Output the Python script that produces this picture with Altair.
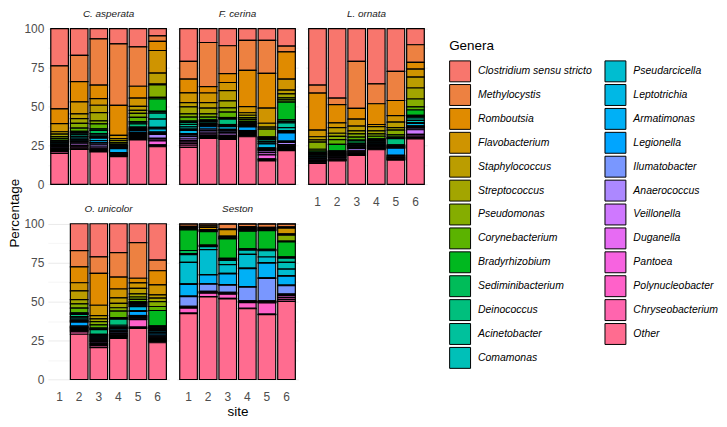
import math
import altair as alt
import pandas as pd

GENERA = ["Clostridium sensu stricto", "Methylocystis", "Romboutsia", "Flavobacterium",
          "Staphylococcus", "Streptococcus", "Pseudomonas", "Corynebacterium",
          "Bradyrhizobium", "Sediminibacterium", "Deinococcus", "Acinetobacter",
          "Comamonas", "Pseudarcicella", "Leptotrichia", "Armatimonas", "Legionella",
          "Ilumatobacter", "Anaerococcus", "Veillonella", "Duganella", "Pantoea",
          "Polynucleobacter", "Chryseobacterium", "Other"]

SITES = ["1", "2", "3", "4", "5", "6"]
SITES_OU = ["2", "3", "4", "5", "6"]

# percentages per bar, in GENERA order (top of stack first)
C_ASPERATA = [
    [23.7, 27.4, 9.3, 5.2, 1.5, 1.5, 1.2, 1.2, 0.5, 0.5, 0.4, 0.4, 0.4, 0.6, 0.5, 0.5, 0.5, 0.5, 0.5, 0.5, 0.6, 0.5, 0.5, 1.0, 19.6],
    [17.5, 17.1, 13.2, 7.9, 3.1, 3.1, 3.1, 2.0, 0.8, 0.8, 0.8, 1.0, 1.0, 0.8, 0.5, 0.5, 0.5, 0.8, 0.8, 1.0, 0.8, 0.8, 0.5, 0.5, 22.7],
    [6.6, 29.5, 8.6, 4.2, 4.7, 5.2, 2.0, 3.1, 1.0, 2.0, 1.0, 1.0, 0.5, 0.5, 1.5, 1.3, 0.4, 1.0, 1.5, 1.0, 0.6, 0.5, 0.5, 0.5, 20.6],
    [9.7, 38.8, 18.9, 2.1, 1.2, 1.2, 1.0, 0.8, 0.3, 0.3, 0.3, 0.3, 0.3, 0.3, 0.3, 2.5, 0.4, 0.3, 0.3, 0.3, 0.3, 0.3, 0.3, 0.3, 17.5],
    [11.8, 25.3, 7.6, 5.4, 2.5, 2.0, 2.5, 2.7, 0.8, 0.8, 2.0, 0.8, 0.6, 0.5, 0.6, 1.0, 0.6, 0.6, 0.6, 0.6, 0.6, 0.6, 0.6, 0.6, 28.5],
    [4.7, 3.5, 5.8, 14.4, 7.0, 0.6, 8.0, 1.0, 7.8, 0.5, 0.8, 3.7, 5.3, 1.0, 2.0, 0.5, 0.5, 0.5, 2.5, 0.5, 1.2, 2.5, 0.5, 0.7, 24.0],
]
F_CERINA = [
    [21.0, 11.4, 8.8, 6.2, 2.7, 4.5, 2.1, 2.5, 0.5, 0.5, 1.2, 1.5, 1.5, 0.8, 2.0, 0.5, 0.5, 1.0, 1.5, 1.0, 1.0, 1.0, 1.0, 1.3, 23.7],
    [8.9, 28.2, 4.1, 6.2, 3.5, 3.7, 2.0, 1.7, 0.5, 0.5, 0.5, 1.0, 0.5, 0.5, 0.5, 0.5, 1.5, 1.0, 1.0, 1.0, 1.0, 0.8, 0.6, 0.6, 29.3],
    [11.0, 17.9, 5.7, 5.2, 6.6, 4.5, 2.7, 3.5, 0.5, 0.5, 3.5, 0.5, 0.5, 0.3, 1.8, 0.5, 0.5, 1.0, 1.0, 1.0, 0.6, 0.6, 0.6, 0.6, 28.9],
    [7.6, 19.2, 23.3, 3.9, 1.6, 1.5, 1.2, 1.2, 0.5, 0.5, 0.5, 0.5, 0.5, 0.5, 0.3, 0.3, 2.3, 0.6, 0.6, 0.6, 0.6, 0.6, 0.5, 0.5, 30.5],
    [7.6, 21.2, 22.3, 9.7, 2.5, 1.2, 5.0, 0.5, 0.5, 0.5, 0.5, 1.0, 1.0, 0.5, 2.6, 0.5, 0.5, 0.5, 0.5, 1.0, 1.5, 2.6, 0.5, 0.8, 15.0],
    [11.3, 3.7, 17.5, 7.0, 2.5, 2.5, 1.3, 1.5, 11.3, 1.0, 1.0, 3.0, 2.0, 0.5, 0.7, 0.3, 5.2, 0.8, 1.5, 0.8, 0.8, 0.8, 0.8, 0.7, 21.6],
]
L_ORNATA = [
    [36.1, 5.1, 23.7, 4.2, 2.0, 1.5, 4.5, 1.2, 1.0, 0.8, 0.6, 0.6, 0.5, 0.4, 0.4, 0.4, 0.4, 0.4, 0.4, 0.4, 0.4, 0.4, 0.4, 0.3, 13.4],
    [43.9, 4.1, 11.4, 3.1, 3.5, 2.0, 2.0, 3.0, 4.1, 0.5, 0.5, 0.4, 0.4, 0.4, 0.4, 0.4, 0.4, 0.4, 0.4, 0.8, 0.4, 0.3, 0.3, 0.3, 14.8],
    [21.2, 30.3, 6.9, 4.5, 3.1, 2.0, 2.0, 2.0, 0.5, 1.5, 0.5, 0.5, 0.5, 0.4, 0.4, 0.4, 0.4, 0.4, 1.4, 0.6, 0.6, 0.6, 0.6, 0.6, 18.6],
    [35.7, 12.8, 13.4, 1.4, 2.7, 2.0, 1.5, 1.6, 0.5, 0.5, 0.5, 0.5, 0.5, 0.4, 0.4, 0.5, 0.5, 0.4, 0.4, 0.4, 0.4, 0.4, 0.4, 0.4, 22.3],
    [27.4, 18.6, 9.7, 4.1, 3.5, 1.6, 3.1, 1.4, 0.5, 0.5, 4.0, 0.5, 0.5, 0.4, 0.4, 0.3, 4.5, 0.5, 0.5, 0.5, 0.4, 0.4, 0.4, 0.4, 15.5],
    [10.3, 11.3, 4.2, 5.1, 7.0, 7.0, 5.0, 2.0, 3.5, 0.8, 0.8, 1.5, 1.5, 0.5, 1.5, 0.5, 0.5, 0.5, 1.0, 3.0, 1.0, 0.8, 0.5, 0.5, 29.0],
]
O_UNICOLOR = [
    [17.0, 10.3, 10.0, 5.1, 5.6, 2.7, 2.7, 2.9, 0.5, 0.5, 1.4, 1.0, 1.0, 0.5, 0.5, 0.5, 2.5, 0.5, 0.5, 0.5, 0.8, 0.6, 0.8, 1.5, 28.6],
    [21.1, 10.4, 20.3, 6.6, 2.1, 1.7, 2.1, 2.0, 0.5, 0.5, 3.0, 0.5, 0.5, 0.6, 0.6, 0.6, 0.6, 0.6, 0.6, 1.0, 0.6, 0.6, 0.6, 1.0, 20.3],
    [18.2, 15.3, 7.5, 5.6, 3.5, 2.7, 2.1, 4.1, 0.5, 0.5, 3.8, 1.0, 0.5, 0.5, 1.0, 0.5, 0.5, 1.0, 0.5, 0.5, 0.5, 0.5, 0.5, 0.7, 25.9],
    [12.0, 22.8, 3.0, 3.5, 3.5, 2.0, 1.5, 1.5, 0.5, 0.5, 0.5, 0.5, 0.6, 0.5, 2.6, 0.5, 2.6, 0.6, 0.5, 0.5, 0.5, 0.5, 4.8, 0.8, 32.7],
    [22.8, 6.6, 8.9, 6.2, 2.1, 2.1, 3.1, 2.5, 9.6, 0.8, 0.5, 0.8, 0.8, 0.5, 0.8, 1.0, 1.0, 0.6, 0.6, 0.6, 0.6, 0.6, 0.6, 0.8, 23.0],
]
SESTON = [
    [0.3, 1.4, 0.5, 0.5, 0.3, 0.3, 0.3, 0.3, 13.3, 2.0, 0.3, 0.3, 5.0, 13.9, 0.3, 7.6, 0.3, 6.2, 0.3, 0.3, 0.3, 0.3, 3.2, 0.3, 42.4],
    [0.3, 1.0, 1.0, 1.5, 0.3, 0.3, 0.3, 0.3, 8.7, 0.3, 0.3, 0.3, 2.0, 15.9, 0.3, 5.6, 0.3, 4.6, 0.3, 0.3, 0.3, 0.3, 2.1, 0.3, 52.8],
    [0.3, 3.1, 0.4, 4.2, 0.5, 0.5, 0.4, 0.4, 12.4, 0.5, 0.5, 0.4, 2.7, 5.6, 0.4, 6.8, 0.4, 4.6, 0.3, 0.3, 0.3, 0.3, 2.7, 0.3, 51.8],
    [0.3, 1.6, 0.6, 0.6, 0.5, 0.5, 0.4, 0.4, 11.4, 0.3, 0.3, 0.3, 2.8, 9.0, 0.3, 11.8, 0.3, 8.9, 0.3, 0.3, 0.3, 0.3, 3.7, 0.3, 46.2],
    [0.3, 2.0, 0.4, 0.4, 0.4, 0.3, 0.3, 0.3, 12.0, 0.3, 0.3, 0.3, 4.0, 3.6, 0.3, 9.5, 0.3, 14.5, 0.3, 0.3, 0.3, 0.3, 7.3, 0.3, 41.6],
    [0.3, 1.6, 0.8, 3.7, 0.4, 0.4, 3.8, 0.4, 9.5, 0.4, 0.4, 2.7, 4.2, 4.1, 0.4, 5.6, 0.4, 5.2, 0.3, 0.3, 0.3, 1.2, 1.3, 1.2, 49.3],
]

PANELS = [("C. asperata", SITES, C_ASPERATA), ("F. cerina", SITES, F_CERINA),
          ("L. ornata", SITES, L_ORNATA), ("O. unicolor", SITES_OU, O_UNICOLOR),
          ("Seston", SITES, SESTON)]

rows = []
for host, sites, bars in PANELS:
    for site, vals in zip(sites, bars):
        for i, (g, v) in enumerate(zip(GENERA, vals)):
            rows.append({"host": host, "site": site, "genus": g, "value": v, "ord": len(GENERA) - 1 - i})
df = pd.DataFrame(rows)


def hcl_hex(h, c=100.0, l=65.0):
    WX, WY, WZ = 95.047, 100.0, 108.883
    un = 4 * WX / (WX + 15 * WY + 3 * WZ)
    vn = 9 * WY / (WX + 15 * WY + 3 * WZ)
    hr = math.radians(h)
    U, V = c * math.cos(hr), c * math.sin(hr)
    Y = WY * (((l + 16) / 116) ** 3 if l > 7.999592 else l / 903.3)
    u = U / (13 * l) + un
    v = V / (13 * l) + vn
    X = 9.0 * Y * u / (4 * v)
    Z = -X / 3 - 5 * Y + 3 * Y / v

    def g(t):
        t = 1.055 * t ** (1 / 2.4) - 0.055 if t > 0.00304 else 12.92 * t
        return max(0, min(255, round(255 * t)))
    r = g((3.240479 * X - 1.537150 * Y - 0.498535 * Z) / WY)
    gg = g((-0.969256 * X + 1.875992 * Y + 0.041556 * Z) / WY)
    b = g((0.055648 * X - 0.204043 * Y + 1.057311 * Z) / WY)
    return "#%02X%02X%02X" % (r, gg, b)


n = len(GENERA)
COLORS = [hcl_hex(15 + 360 * k / n) for k in range(n)]

GRID = "#EBEBEB"
W, H = 122, 172
FONT = "Liberation Sans"

legend = alt.Legend(title="Genera", columns=2, symbolType="square", symbolSize=441,
                    symbolStrokeColor="black", symbolStrokeWidth=1, symbolOpacity=1,
                    labelFontStyle="italic", labelFontSize=10.5, labelColor="black",
                    titleFontSize=13.5, titleFontWeight="normal", titleColor="black",
                    rowPadding=-2.5, columnPadding=10, labelOffset=7, titlePadding=8,
                    orient="none", legendX=403, legendY=18)

color = alt.Color("genus:N", scale=alt.Scale(domain=GENERA, range=COLORS), legend=legend)

YVALS = [0, 0.125, 0.25, 0.375, 0.5, 0.625, 0.75, 0.875, 1]


def panel(host, xlabels, ylabels, xtitle=None):
    xaxis = alt.Axis(labels=xlabels, ticks=False, domain=False, title=xtitle, bandPosition=0.5,
                     gridColor=GRID, gridWidth=1, labelAngle=0, labelFontSize=12,
                     labelColor="#4D4D4D", labelPadding=4, titleFontSize=13.5,
                     titleFontWeight="normal", titleColor="black", titlePadding=2)
    yaxis = alt.Axis(values=YVALS, labels=ylabels, ticks=False, domain=False, title=None,
                     labelExpr="datum.value * 8 % 2 == 0 ? format(datum.value * 100, 'd') : ''",
                     gridColor=GRID,
                     gridWidth={"condition": {"test": "datum.value * 8 % 2 == 1", "value": 0.5}, "value": 1},
                     labelFontSize=12, labelColor="#4D4D4D", labelPadding=4)
    return alt.Chart(df[df.host == host]).mark_bar(stroke="black", strokeWidth=1.2).encode(
        x=alt.X("site:O", scale=alt.Scale(domain=SITES, paddingInner=0.1, paddingOuter=0.15), axis=xaxis),
        y=alt.Y("value:Q", stack="normalize", scale=alt.Scale(domain=[-0.05, 1.05], nice=False), axis=yaxis),
        color=color,
        order=alt.Order("ord:Q", sort="ascending"),
    ).properties(width=W, height=H,
                 title=alt.TitleParams(host, fontSize=10, fontStyle="italic", fontWeight="normal",
                                       color="#1A1A1A", offset=2, anchor="middle"))


col1 = alt.vconcat(panel("C. asperata", False, True), panel("O. unicolor", True, True), spacing=12)
col2 = alt.vconcat(panel("F. cerina", False, False), panel("Seston", True, False, "site"), spacing=12)
col3 = panel("L. ornata", True, False)

chart = alt.hconcat(col1, col2, col3, spacing=7.5).properties(
    title=alt.TitleParams("Percentage", orient="left", anchor="middle", fontSize=13.5,
                          fontWeight="normal", color="black", offset=2),
    padding=0,
).configure(font=FONT).configure_view(stroke=None)

chart.save("out.html", embed_options={"renderer": "svg", "actions": False})
